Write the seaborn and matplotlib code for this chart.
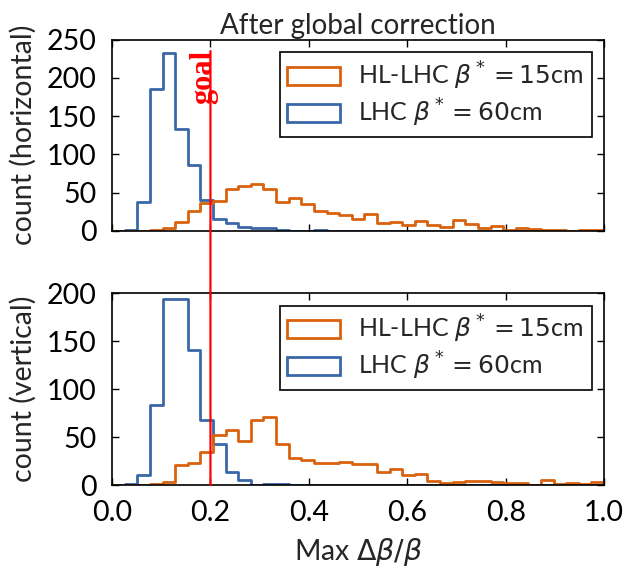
import numpy as np
import pandas as pd
import matplotlib
matplotlib.use("Agg")
import matplotlib.pyplot as plt
import seaborn as sns
from matplotlib.patches import Patch, ConnectionPatch

# ---- data (counts per bin, 39 equal bins on [0, 1]) ----
n_bins = 39
bin_range = (0.0, 1.0)

hl_horizontal = [0, 0, 0, 1, 3, 11, 26, 36, 39, 55,
                 59, 61, 55, 38, 43, 35, 26, 23, 21, 16,
                 22, 10, 12, 8, 13, 7, 5, 14, 9, 4,
                 6, 1, 3, 2, 1, 1, 0, 1, 1]
lhc_horizontal = [0, 1, 38, 186, 232, 133, 86, 40, 15, 10,
                  5, 3, 3, 1, 0, 0, 1, 0, 0, 0,
                  0, 0, 0, 0, 0, 0, 0, 0, 0, 0,
                  0, 0, 0, 0, 0, 0, 0, 0, 0]
hl_vertical = [0, 0, 0, 1, 3, 21, 23, 34, 52, 57,
               46, 68, 71, 43, 28, 26, 23, 23, 24, 22,
               22, 14, 17, 10, 12, 4, 2, 3, 4, 4,
               3, 2, 2, 0, 5, 1, 2, 1, 3]
lhc_vertical = [0, 1, 10, 83, 194, 194, 141, 68, 43, 14,
                5, 0, 1, 1, 0, 0, 0, 0, 0, 0,
                0, 0, 0, 0, 0, 0, 0, 0, 0, 0,
                0, 0, 0, 0, 0, 0, 0, 0, 0]

labels = [r"HL-LHC $\beta^* = 15$cm", r"LHC $\beta^* = 60$cm"]
goal_value = 0.2
title = "After global correction"
ylabels = ["count (horizontal)", "count (vertical)"]
xlabel = r"Max $\Delta\beta/\beta$"

ORANGE = "#d9620e"
BLUE = "#3a67a8"

sns.set_style("white")
plt.rcParams.update({
    "font.family": ["Lato", "DejaVu Sans"],
    "mathtext.fontset": "dejavusans",
    "font.size": 19,
    "axes.edgecolor": "black",
    "axes.linewidth": 1.2,
    "xtick.direction": "in",
    "ytick.direction": "in",
    "xtick.top": True,
    "ytick.right": True,
    "xtick.bottom": True,
    "ytick.left": True,
    "xtick.major.size": 5,
    "ytick.major.size": 5,
    "xtick.major.width": 1,
    "ytick.major.width": 1,
    "xtick.color": "black",
    "ytick.color": "black",
})

edges = np.linspace(bin_range[0], bin_range[1], n_bins + 1)
centers = 0.5 * (edges[:-1] + edges[1:])

fig = plt.figure(figsize=(6.26, 5.74), dpi=100)
ax1 = fig.add_axes([0.179, 0.598, 0.786, 0.333])
ax2 = fig.add_axes([0.179, 0.155, 0.786, 0.3345])

panels = [(ax1, hl_horizontal, lhc_horizontal, 250),
          (ax2, hl_vertical, lhc_vertical, 200)]

for i, (ax, hl, lhc, ymax) in enumerate(panels):
    for counts, color in [(lhc, BLUE), (hl, ORANGE)]:
        df = pd.DataFrame({"x": centers, "w": np.asarray(counts, float)})
        sns.histplot(data=df, x="x", weights="w", bins=n_bins,
                     binrange=bin_range, element="step", fill=False,
                     color=color, linewidth=2, ax=ax)
    ax.set_xlim(0, 1)
    ax.set_ylim(0, ymax)
    ax.set_yticks(np.arange(0, ymax + 1, 50))
    ax.set_xticks(np.arange(0, 1.01, 0.2))
    ax.set_ylabel(ylabels[i], fontsize=20.5, labelpad=7)
    ax.tick_params(axis="both", labelsize=20.5, pad=11)
    handles = [Patch(facecolor="none", edgecolor=ORANGE, linewidth=2, label=labels[0]),
               Patch(facecolor="none", edgecolor=BLUE, linewidth=2, label=labels[1])]
    leg = ax.legend(handles=handles, loc="upper right", fontsize=18,
                    frameon=True, fancybox=False, framealpha=1,
                    edgecolor="black", handlelength=2.1, handleheight=0.75,
                    handletextpad=0.75, labelspacing=0.2, borderpad=0.3,
                    borderaxespad=0.5)
    leg.get_frame().set_linewidth(1.2)

ax1.set_xlabel("")
ax1.tick_params(axis="x", labelbottom=False)
ax1.set_title(title, fontsize=20, pad=4)
ax2.set_xlabel(xlabel, fontsize=20.5, labelpad=7)
ax2.set_xticklabels([f"{v:.1f}" for v in np.arange(0, 1.01, 0.2)])

con = ConnectionPatch(xyA=(goal_value, 235), coordsA=ax1.transData,
                      xyB=(goal_value, 0), coordsB=ax2.transData,
                      color="red", linewidth=1.6)
fig.add_artist(con)
ax1.text(goal_value - 0.014, 236, "goal", rotation=90, color="red",
         fontweight="bold", fontsize=22, ha="center", va="top",
         family=["Liberation Serif", "DejaVu Serif"])

fig.savefig("out.png", dpi=100)
